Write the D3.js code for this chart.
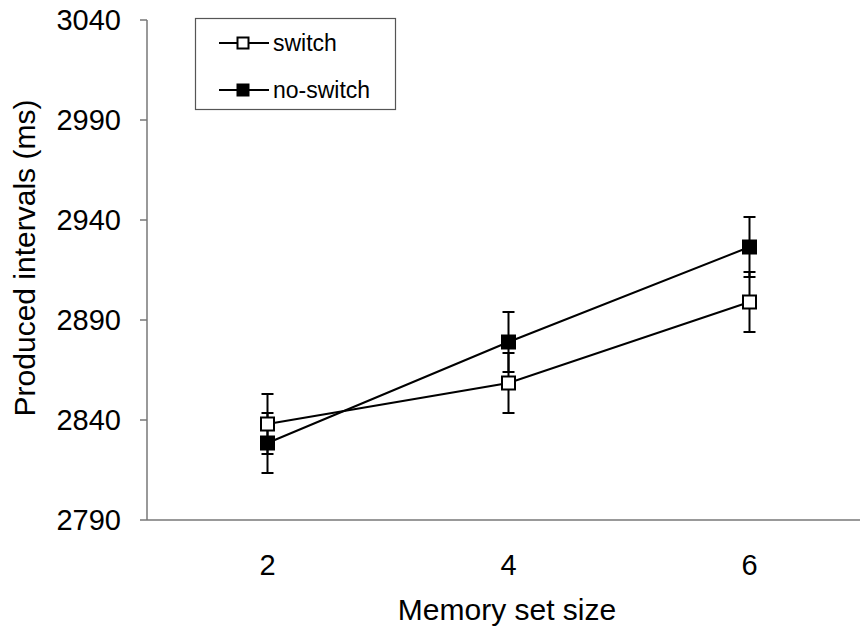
<!DOCTYPE html>
<html>
<head>
<meta charset="utf-8">
<script src="https://cdn.jsdelivr.net/npm/d3@7"></script>
<style>
  body { margin: 0; background: #fff; }
  svg { display: block; font-family: "Liberation Sans", Arial, sans-serif; }
</style>
</head>
<body>
<svg width="860" height="632"></svg>
<script>
const setSizes = [2, 4, 6];
const yTicks = [2790, 2840, 2890, 2940, 2990, 3040];
const switchMeans = [2838, 2858.5, 2899];
const switchErr = [15, 15, 15];
const noSwitchMeans = [2828.5, 2879, 2926.5];
const noSwitchErr = [15, 15, 15];

const series = [
    { name: "switch", fill: "#fff", means: switchMeans, err: switchErr },
    { name: "no-switch", fill: "#000", means: noSwitchMeans, err: noSwitchErr }
];

const svg = d3.select('svg');
const width = 860, height = 632;
const plotLeft = 147, plotRight = 870, plotTop = 20, plotBottom = 520;

const x = d3.scaleBand().domain(setSizes).range([plotLeft, plotRight]);
const y = d3.scaleLinear().domain([2790, 3040]).range([plotBottom, plotTop]);
const cx = d => x(d) + x.bandwidth() / 2;

const axisColor = "#777";

// y axis
svg.append("line")
    .attr("x1", plotLeft).attr("x2", plotLeft)
    .attr("y1", plotTop).attr("y2", plotBottom)
    .attr("stroke", axisColor).attr("stroke-width", 1.5);

svg.selectAll(".ytick")
    .data(yTicks).enter().append("line")
    .attr("x1", plotLeft - 7).attr("x2", plotLeft)
    .attr("y1", d => y(d)).attr("y2", d => y(d))
    .attr("stroke", axisColor).attr("stroke-width", 1.5);

svg.selectAll(".ylabel")
    .data(yTicks).enter().append("text")
    .attr("x", 121)
    .attr("y", d => y(d))
    .attr("text-anchor", "end")
    .attr("dominant-baseline", "central")
    .style("font-size", "29px")
    .style("fill", "#000")
    .text(d => d);

// x axis
svg.append("line")
    .attr("x1", plotLeft).attr("x2", width)
    .attr("y1", plotBottom).attr("y2", plotBottom)
    .attr("stroke", axisColor).attr("stroke-width", 1.5);

svg.selectAll(".xlabel")
    .data(setSizes).enter().append("text")
    .attr("x", d => cx(d))
    .attr("y", 575)
    .attr("text-anchor", "middle")
    .style("font-size", "29px")
    .text(d => d);

svg.append("text")
    .attr("x", 507)
    .attr("y", 620)
    .attr("text-anchor", "middle")
    .style("font-size", "30px")
    .text("Memory set size");

svg.append("text")
    .attr("transform", "translate(35,258) rotate(-90)")
    .attr("text-anchor", "middle")
    .style("font-size", "30px")
    .text("Produced intervals (ms)");

// lines
const line = d3.line()
    .x((d, i) => cx(setSizes[i]))
    .y(d => y(d));

series.forEach(s => {
    svg.append("path")
        .datum(s.means)
        .attr("fill", "none")
        .attr("stroke", "#000")
        .attr("stroke-width", 2)
        .attr("d", line);
});

// error bars
series.forEach(s => {
    const g = svg.append("g");
    setSizes.forEach((k, i) => {
        const xc = cx(k);
        const hi = y(s.means[i] + s.err[i]);
        const lo = y(s.means[i] - s.err[i]);
        g.append("line")
            .attr("x1", xc).attr("x2", xc).attr("y1", hi).attr("y2", lo)
            .attr("stroke", "#000").attr("stroke-width", 2);
        [hi, lo].forEach(v => {
            g.append("line")
                .attr("x1", xc - 6).attr("x2", xc + 6).attr("y1", v).attr("y2", v)
                .attr("stroke", "#000").attr("stroke-width", 2);
        });
    });
});

// markers
const sq = 13;
series.forEach(s => {
    svg.selectAll(null)
        .data(s.means).enter().append("rect")
        .attr("x", (d, i) => cx(setSizes[i]) - sq / 2)
        .attr("y", d => y(d) - sq / 2)
        .attr("width", sq).attr("height", sq)
        .attr("fill", s.fill)
        .attr("stroke", "#000")
        .attr("stroke-width", 2);
});

// legend
svg.append("rect")
    .attr("x", 195.5).attr("y", 18.5)
    .attr("width", 200).attr("height", 91)
    .attr("fill", "#fff")
    .attr("stroke", "#555")
    .attr("stroke-width", 1.2);

series.forEach((s, i) => {
    const ly = 43 + i * 47;
    svg.append("line")
        .attr("x1", 219).attr("x2", 269).attr("y1", ly).attr("y2", ly)
        .attr("stroke", "#000").attr("stroke-width", 2);
    svg.append("rect")
        .attr("x", 243 - 5.5).attr("y", ly - 5.5)
        .attr("width", 11).attr("height", 11)
        .attr("fill", s.fill)
        .attr("stroke", "#000")
        .attr("stroke-width", 2);
    svg.append("text")
        .attr("x", 273)
        .attr("y", ly)
        .attr("dominant-baseline", "central")
        .style("font-size", "23px")
        .text(s.name);
});
</script>
</body>
</html>
